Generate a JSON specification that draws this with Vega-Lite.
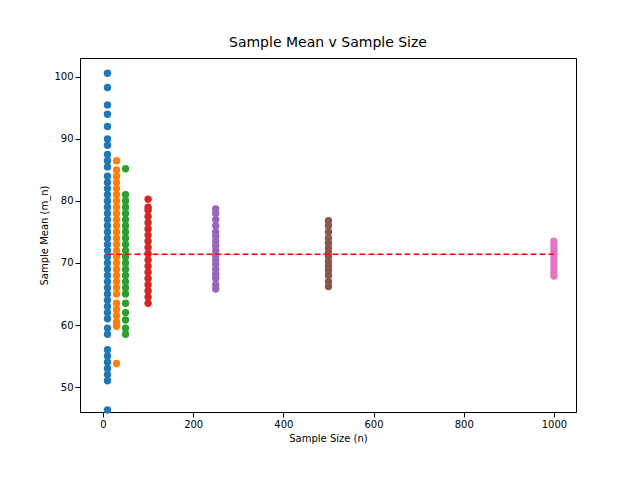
{
"$schema":"https://vega.github.io/schema/vega-lite/v6.json",
"width":496,"height":354,
"autosize":{"type":"none"},
"padding":{"left":80,"top":58,"right":64,"bottom":68},
"title":{"text":"Sample Mean v Sample Size","font":"DejaVu Sans","fontSize":14,"fontWeight":"normal","offset":8},
"config":{"view":{"stroke":"black"},"axis":{"labelFont":"DejaVu Sans","titleFont":"DejaVu Sans","labelFontSize":10,"titleFontSize":10,"titleFontWeight":"normal","grid":false,"domainColor":"black","tickColor":"black","labelColor":"black","titleColor":"black"}},
"datasets":{
"pts":[
{"n":10,"m":46.3},{"n":10,"m":51},{"n":10,"m":52},{"n":10,"m":53},{"n":10,"m":54},{"n":10,"m":55},{"n":10,"m":56},{"n":10,"m":58.5},{"n":10,"m":59.5},{"n":10,"m":61},{"n":10,"m":62},{"n":10,"m":63},{"n":10,"m":64},{"n":10,"m":65},{"n":10,"m":66},{"n":10,"m":67},{"n":10,"m":68},{"n":10,"m":69},{"n":10,"m":70},{"n":10,"m":71},{"n":10,"m":72},{"n":10,"m":73},{"n":10,"m":74},{"n":10,"m":75},{"n":10,"m":76},{"n":10,"m":77},{"n":10,"m":78},{"n":10,"m":79},{"n":10,"m":80},{"n":10,"m":81},{"n":10,"m":82},{"n":10,"m":83},{"n":10,"m":84},{"n":10,"m":85.5},{"n":10,"m":86.5},{"n":10,"m":87.5},{"n":10,"m":89},{"n":10,"m":90},{"n":10,"m":92},{"n":10,"m":94},{"n":10,"m":95.5},{"n":10,"m":98.3},{"n":10,"m":100.6},
{"n":30,"m":53.8},{"n":30,"m":59.8},{"n":30,"m":60.5},{"n":30,"m":61.5},{"n":30,"m":62.5},{"n":30,"m":63.5},{"n":30,"m":65},{"n":30,"m":66},{"n":30,"m":67},{"n":30,"m":68},{"n":30,"m":69},{"n":30,"m":70},{"n":30,"m":71},{"n":30,"m":72},{"n":30,"m":73},{"n":30,"m":74},{"n":30,"m":75},{"n":30,"m":76},{"n":30,"m":77},{"n":30,"m":78},{"n":30,"m":79},{"n":30,"m":80},{"n":30,"m":81},{"n":30,"m":82},{"n":30,"m":83},{"n":30,"m":84},{"n":30,"m":85},{"n":30,"m":86.5},
{"n":50,"m":58.5},{"n":50,"m":59.5},{"n":50,"m":60.8},{"n":50,"m":62},{"n":50,"m":63.5},{"n":50,"m":65},{"n":50,"m":66},{"n":50,"m":67},{"n":50,"m":68},{"n":50,"m":69},{"n":50,"m":70},{"n":50,"m":71},{"n":50,"m":72},{"n":50,"m":73},{"n":50,"m":74},{"n":50,"m":75},{"n":50,"m":76},{"n":50,"m":77},{"n":50,"m":78},{"n":50,"m":79},{"n":50,"m":80},{"n":50,"m":81},{"n":50,"m":85.2},
{"n":100,"m":63.5},{"n":100,"m":64.5},{"n":100,"m":65.5},{"n":100,"m":66.5},{"n":100,"m":67.5},{"n":100,"m":68.5},{"n":100,"m":69.5},{"n":100,"m":70.5},{"n":100,"m":71.5},{"n":100,"m":72.5},{"n":100,"m":73.5},{"n":100,"m":74.5},{"n":100,"m":75.5},{"n":100,"m":76.5},{"n":100,"m":77.5},{"n":100,"m":78.5},{"n":100,"m":79},{"n":100,"m":80.3},
{"n":250,"m":65.8},{"n":250,"m":66.5},{"n":250,"m":67.5},{"n":250,"m":68.2},{"n":250,"m":69},{"n":250,"m":69.8},{"n":250,"m":70.5},{"n":250,"m":71.2},{"n":250,"m":72},{"n":250,"m":72.8},{"n":250,"m":73.5},{"n":250,"m":74.3},{"n":250,"m":75},{"n":250,"m":76},{"n":250,"m":77},{"n":250,"m":78},{"n":250,"m":78.7},
{"n":500,"m":66.2},{"n":500,"m":67},{"n":500,"m":68},{"n":500,"m":68.8},{"n":500,"m":69.5},{"n":500,"m":70.2},{"n":500,"m":71},{"n":500,"m":71.7},{"n":500,"m":72.4},{"n":500,"m":73.2},{"n":500,"m":74},{"n":500,"m":75},{"n":500,"m":76},{"n":500,"m":76.8},
{"n":1000,"m":67.9},{"n":1000,"m":68.5},{"n":1000,"m":69.2},{"n":1000,"m":69.8},{"n":1000,"m":70.4},{"n":1000,"m":71},{"n":1000,"m":71.6},{"n":1000,"m":72.2},{"n":1000,"m":72.8},{"n":1000,"m":73.5}
],
"line":[{"n":10,"m":71.4},{"n":1000,"m":71.4}]
},
"layer":[
{"data":{"name":"pts"},"mark":{"type":"circle","size":55,"opacity":1},
"encoding":{
"x":{"field":"n","type":"quantitative","title":"Sample Size (n)","scale":{"domain":[-51,1049],"nice":false,"zero":false},"axis":{"values":[0,200,400,600,800,1000],"format":"d"}},
"y":{"field":"m","type":"quantitative","title":"Sample Mean (m_n)","scale":{"domain":[45.97,103.06],"nice":false,"zero":false},"axis":{"values":[50,60,70,80,90,100]}},
"color":{"field":"n","type":"nominal","legend":null,"scale":{"domain":[10,30,50,100,250,500,1000],"range":["#1f77b4","#ff7f0e","#2ca02c","#d62728","#9467bd","#8c564b","#e377c2"]}}}},
{"data":{"name":"line"},"mark":{"type":"line","color":"red","strokeDash":[6,3],"strokeWidth":1.5},
"encoding":{"x":{"field":"n","type":"quantitative"},"y":{"field":"m","type":"quantitative"}}}
]
}
